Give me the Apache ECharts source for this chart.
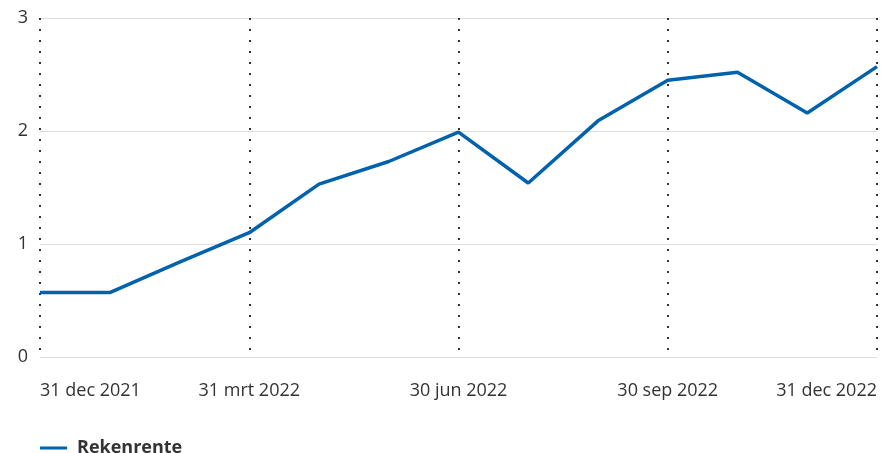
<!DOCTYPE html>
<html>
<head>
<meta charset="utf-8">
<style>
  html, body { margin: 0; padding: 0; background: #fff; }
  #chart { width: 881px; height: 453px; }
</style>
<script src="https://cdn.jsdelivr.net/npm/echarts@6/dist/echarts.min.js"></script>
</head>
<body>
<div id="chart"></div>
<script>
// maand-einden
var dates = ['31 dec 2021', '31 jan 2022', '28 feb 2022', '31 mrt 2022', '30 apr 2022', '31 mei 2022',
  '30 jun 2022', '31 jul 2022', '31 aug 2022', '30 sep 2022', '31 okt 2022', '30 nov 2022', '31 dec 2022']
var rekenrente = [0.57, 0.57, 0.84, 1.10, 1.53, 1.73, 1.99, 1.54, 2.09, 2.45, 2.52, 2.16, 2.57]
var yTicks = [0, 1, 2, 3]

var font = 'Open Sans'
var myChart = echarts.init(document.getElementById('chart'))

// alleen kwartaal-einden tonen
function quarter(index) {
  return index % 3 === 0
}

var option = {
  animation: false,
  grid: {
    left: 40,
    right: 4,
    top: 18,
    bottom: 96
  },
  legend: {
    left: 40,
    top: 439,
    padding: 0,
    icon: 'rect',
    itemWidth: 27,
    itemHeight: 3,
    textStyle: {
      fontFamily: font,
      fontSize: 18,
      fontWeight: 'bold',
      color: '#333',
      padding: [0, 0, 0, 5]
    },
    data: ['Rekenrente']
  },
  xAxis: {
    type: 'category',
    boundaryGap: false,
    data: dates,
    axisLine: { show: false },
    axisTick: { show: false },
    axisLabel: {
      interval: quarter,
      margin: 25,
      fontFamily: font,
      fontSize: 18,
      color: '#333',
      alignMinLabel: 'left',
      alignMaxLabel: 'right'
    },
    splitLine: {
      show: true,
      interval: quarter,
      lineStyle: {
        color: '#333',
        width: 2,
        type: [2, 9]
      }
    }
  },
  yAxis: {
    type: 'value',
    min: yTicks[0],
    max: yTicks[yTicks.length - 1],
    interval: 1,
    axisLine: { show: false },
    axisTick: { show: false },
    axisLabel: {
      margin: 12,
      fontFamily: font,
      fontSize: 18,
      color: '#333'
    },
    splitLine: {
      lineStyle: { color: '#ddd', width: 1 }
    }
  },
  series: [
    {
      name: 'Rekenrente',
      type: 'line',
      data: rekenrente,
      symbol: 'none',
      color: '#0062ad',
      lineStyle: { width: 3.5, color: '#0062ad' }
    }
  ]
}

myChart.setOption(option)
window.onresize = myChart.resize
</script>
</body>
</html>
